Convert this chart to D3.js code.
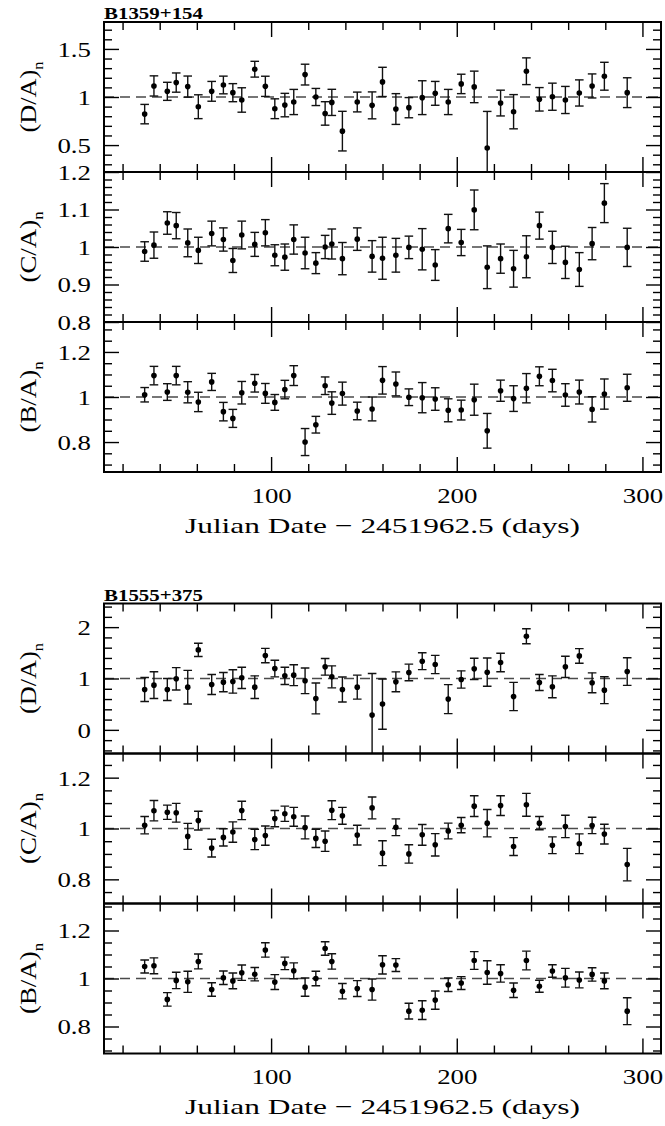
<!DOCTYPE html>
<html>
<head>
<meta charset="utf-8">
<script src="https://cdn.jsdelivr.net/npm/d3@7"></script>
<style>
  body { margin: 0; background: #fff; }
  svg { display: block; }
</style>
</head>
<body>
<svg id="chart" width="665" height="1126"></svg>
<script>
// Observation epochs, Julian Date - 2451962.5 (days)
const days = [31.9, 36.9, 44.1, 48.9, 55.1, 60.8, 68.0, 74.3, 79.4, 84.2, 91.2, 96.9, 102.0, 107.4, 112.2, 118.3, 124.1, 129.1, 132.7, 138.4, 146.4, 154.4, 160.0, 167.2, 174.2, 181.4, 188.4, 195.4, 202.4, 209.4, 216.4, 223.6, 230.6, 237.5, 244.5, 251.5, 258.5, 266.0, 272.9, 279.5, 291.8];

const dayDomain = [10, 310];
const dayMajorTicks = [100, 200, 300];
const dayMinorTicks = d3.range(20, 301, 20);

// B1359+154 normalised flux ratios
const b1359_DA = [0.822, 1.115, 1.059, 1.150, 1.108, 0.899, 1.059, 1.125, 1.045, 0.969, 1.289, 1.111, 0.878, 0.916, 0.948, 1.233, 1.000, 0.829, 0.944, 0.645, 0.948, 0.913, 1.157, 0.875, 0.889, 0.993, 1.038, 0.948, 1.136, 1.105, 0.470, 0.937, 0.847, 1.268, 0.976, 1.003, 0.969, 1.042, 1.115, 1.216, 1.045];
const b1359_DA_err = [0.101, 0.105, 0.094, 0.100, 0.110, 0.124, 0.103, 0.092, 0.094, 0.127, 0.082, 0.105, 0.103, 0.122, 0.131, 0.108, 0.089, 0.122, 0.136, 0.206, 0.103, 0.140, 0.152, 0.160, 0.105, 0.176, 0.124, 0.131, 0.101, 0.164, 0.380, 0.134, 0.178, 0.139, 0.122, 0.141, 0.141, 0.136, 0.125, 0.145, 0.155];
const b1359_CA = [0.988, 1.005, 1.064, 1.057, 1.011, 0.991, 1.036, 1.020, 0.964, 1.032, 1.007, 1.038, 0.978, 0.973, 1.020, 0.984, 0.957, 1.000, 1.008, 0.969, 1.021, 0.975, 0.970, 0.978, 0.999, 0.994, 0.952, 1.049, 1.012, 1.099, 0.946, 0.969, 0.942, 0.974, 1.057, 0.999, 0.959, 0.940, 1.009, 1.117, 0.999];
const b1359_CA_err = [0.026, 0.035, 0.030, 0.035, 0.037, 0.035, 0.033, 0.031, 0.032, 0.037, 0.032, 0.035, 0.028, 0.035, 0.039, 0.042, 0.028, 0.031, 0.040, 0.043, 0.030, 0.042, 0.056, 0.045, 0.030, 0.055, 0.041, 0.038, 0.035, 0.053, 0.057, 0.039, 0.049, 0.056, 0.036, 0.043, 0.043, 0.045, 0.043, 0.052, 0.051];
const b1359_BA = [1.010, 1.095, 1.022, 1.095, 1.021, 0.978, 1.067, 0.935, 0.905, 1.019, 1.061, 1.016, 0.976, 1.033, 1.095, 0.800, 0.877, 1.050, 0.973, 1.015, 0.938, 0.947, 1.074, 1.058, 0.999, 0.997, 0.991, 0.941, 0.942, 0.988, 0.850, 1.028, 0.993, 1.039, 1.092, 1.073, 1.009, 1.022, 0.945, 1.013, 1.041];
const b1359_BA_err = [0.032, 0.041, 0.037, 0.041, 0.047, 0.043, 0.038, 0.041, 0.040, 0.050, 0.039, 0.044, 0.035, 0.041, 0.044, 0.060, 0.037, 0.039, 0.050, 0.051, 0.039, 0.053, 0.061, 0.053, 0.037, 0.067, 0.050, 0.051, 0.044, 0.069, 0.077, 0.047, 0.057, 0.065, 0.042, 0.050, 0.050, 0.053, 0.056, 0.067, 0.060];

// B1555+375 normalised flux ratios
const b1555_DA = [0.786, 0.871, 0.786, 0.994, 0.832, 1.557, 0.883, 0.929, 0.942, 1.013, 0.832, 1.447, 1.194, 1.052, 1.065, 0.955, 0.612, 1.227, 1.032, 0.786, 0.832, 0.288, 0.502, 0.935, 1.117, 1.337, 1.272, 0.599, 0.981, 1.188, 1.123, 1.311, 0.650, 1.822, 0.922, 0.838, 1.227, 1.440, 0.916, 0.773, 1.136];
const b1555_DA_err = [0.233, 0.259, 0.214, 0.217, 0.327, 0.129, 0.194, 0.188, 0.227, 0.207, 0.220, 0.139, 0.162, 0.168, 0.204, 0.249, 0.301, 0.162, 0.214, 0.243, 0.233, 0.810, 0.489, 0.194, 0.162, 0.165, 0.178, 0.282, 0.168, 0.207, 0.275, 0.181, 0.275, 0.146, 0.155, 0.214, 0.207, 0.142, 0.194, 0.262, 0.269];
const b1555_CA = [1.013, 1.070, 1.064, 1.062, 0.969, 1.031, 0.923, 0.965, 0.986, 1.071, 0.957, 0.972, 1.039, 1.058, 1.046, 1.004, 0.961, 0.950, 1.072, 1.050, 0.974, 1.081, 0.903, 1.005, 0.900, 0.975, 0.936, 0.990, 1.013, 1.088, 1.021, 1.090, 0.929, 1.093, 1.021, 0.934, 1.008, 0.940, 1.012, 0.978, 0.858];
const b1555_CA_err = [0.034, 0.040, 0.028, 0.037, 0.051, 0.037, 0.035, 0.034, 0.040, 0.036, 0.040, 0.038, 0.032, 0.030, 0.037, 0.045, 0.036, 0.040, 0.037, 0.033, 0.039, 0.043, 0.049, 0.033, 0.036, 0.041, 0.044, 0.031, 0.030, 0.041, 0.054, 0.039, 0.035, 0.045, 0.026, 0.033, 0.044, 0.039, 0.032, 0.039, 0.064];
const b1555_BA = [1.050, 1.053, 0.913, 0.992, 0.986, 1.071, 0.954, 1.003, 0.990, 1.024, 1.018, 1.119, 0.985, 1.063, 1.032, 0.964, 1.000, 1.125, 1.071, 0.947, 0.958, 0.954, 1.057, 1.056, 0.864, 0.868, 0.910, 0.974, 0.981, 1.075, 1.025, 1.021, 0.951, 1.075, 0.968, 1.031, 1.003, 0.994, 1.017, 0.990, 0.864];
const b1555_BA_err = [0.027, 0.033, 0.028, 0.034, 0.044, 0.031, 0.028, 0.028, 0.033, 0.032, 0.028, 0.030, 0.031, 0.026, 0.033, 0.038, 0.030, 0.028, 0.032, 0.032, 0.033, 0.044, 0.038, 0.027, 0.033, 0.039, 0.038, 0.028, 0.027, 0.037, 0.049, 0.036, 0.030, 0.039, 0.025, 0.026, 0.039, 0.033, 0.028, 0.033, 0.056];

// Y-axis ranges and tick labels per panel
const yDomain_1359_DA = [0.22, 1.78];
const yTicks_1359_DA = [0.5, 1, 1.5];
const yDomain_1359_CA = [0.8, 1.2];
const yTicks_1359_CA = [0.8, 0.9, 1, 1.1, 1.2];
const yDomain_1359_BA = [0.667, 1.333];
const yTicks_1359_BA = [0.8, 1, 1.2];
const yDomain_1555_DA = [-0.46, 2.46];
const yTicks_1555_DA = [0, 1, 2];
const yDomain_1555_CA = [0.705, 1.295];
const yTicks_1555_CA = [0.8, 1, 1.2];
const yDomain_1555_BA = [0.6875, 1.3125];
const yTicks_1555_BA = [0.8, 1, 1.2];

const titles = ["B1359+154", "B1555+375"];
const xLabel = "Julian Date \u2212 2451962.5 (days)";

// ---------------------------------------------------------------
const LEFT = 104, RIGHT = 661, PANEL_H = 150;
const FONT = "'Liberation Serif', 'Times New Roman', serif";
const svg = d3.select("#chart");
const x = d3.scaleLinear().domain(dayDomain).range([LEFT, RIGHT]);

const figures = [
  { title: titles[0], top: 22, panels: [
    { ratio: "D", vals: b1359_DA, errs: b1359_DA_err, dom: yDomain_1359_DA, major: yTicks_1359_DA, minorStep: 0.1 },
    { ratio: "C", vals: b1359_CA, errs: b1359_CA_err, dom: yDomain_1359_CA, major: yTicks_1359_CA, minorStep: 0.02 },
    { ratio: "B", vals: b1359_BA, errs: b1359_BA_err, dom: yDomain_1359_BA, major: yTicks_1359_BA, minorStep: 0.05 }
  ]},
  { title: titles[1], top: 603.5, panels: [
    { ratio: "D", vals: b1555_DA, errs: b1555_DA_err, dom: yDomain_1555_DA, major: yTicks_1555_DA, minorStep: 0.2 },
    { ratio: "C", vals: b1555_CA, errs: b1555_CA_err, dom: yDomain_1555_CA, major: yTicks_1555_CA, minorStep: 0.05 },
    { ratio: "B", vals: b1555_BA, errs: b1555_BA_err, dom: yDomain_1555_BA, major: yTicks_1555_BA, minorStep: 0.05 }
  ]}
];

function minorTicks(dom, step) {
  const lo = Math.ceil(dom[0] / step - 1e-9), hi = Math.floor(dom[1] / step + 1e-9);
  return d3.range(lo, hi + 1).map(i => +(i * step).toFixed(4));
}

function styleAxis(g, width) {
  g.select(".domain").remove();
  g.selectAll(".tick line").attr("stroke", "#000").attr("stroke-width", width);
}

// stretch glyphs horizontally to the wide plotting font used for labels
function widen(sel, factor) {
  sel.each(function () {
    const w = this.getComputedTextLength();
    d3.select(this).attr("textLength", w * factor).attr("lengthAdjust", "spacingAndGlyphs");
  });
}

figures.forEach((fig, fi) => {
  const gFig = svg.append("g");

  gFig.append("text")
    .attr("x", LEFT).attr("y", fig.top - 3)
    .attr("font-family", FONT).attr("font-weight", "bold").attr("font-size", 16.5)
    .attr("textLength", 99).attr("lengthAdjust", "spacingAndGlyphs")
    .text(fig.title);

  fig.panels.forEach((p, pi) => {
    const top = fig.top + pi * PANEL_H;
    const bottom = top + PANEL_H;
    const y = d3.scaleLinear().domain(p.dom).range([bottom, top]);
    const g = gFig.append("g");
    const clipId = `clip-${fi}-${pi}`;

    g.append("clipPath").attr("id", clipId)
      .append("rect").attr("x", LEFT).attr("y", top).attr("width", RIGHT - LEFT).attr("height", PANEL_H);

    const plot = g.append("g").attr("clip-path", `url(#${clipId})`);

    // reference level at unity
    plot.append("line")
      .attr("x1", LEFT).attr("x2", RIGHT).attr("y1", y(1)).attr("y2", y(1))
      .attr("stroke", "#4a4a4a").attr("stroke-width", 1.3).attr("stroke-dasharray", "10,6");

    const pts = days.map((d, i) => ({ d, v: p.vals[i], e: p.errs[i] }));
    const bars = plot.append("g").attr("stroke", "#111").attr("stroke-width", 1.4);
    const capW = 4.3;
    pts.forEach(pt => {
      const cx = x(pt.d), y0 = y(pt.v - pt.e), y1 = y(pt.v + pt.e);
      bars.append("line").attr("x1", cx).attr("x2", cx).attr("y1", y0).attr("y2", y1);
      bars.append("line").attr("x1", cx - capW).attr("x2", cx + capW).attr("y1", y0).attr("y2", y0);
      bars.append("line").attr("x1", cx - capW).attr("x2", cx + capW).attr("y1", y1).attr("y2", y1);
    });
    plot.append("g").selectAll("circle").data(pts).join("circle")
      .attr("cx", d => x(d.d)).attr("cy", d => y(d.v)).attr("r", 2.8).attr("fill", "#000");

    // ticks on all four sides, pointing inwards
    const yMinor = minorTicks(p.dom, p.minorStep).filter(v => !p.major.some(m => Math.abs(m - v) < 1e-6));
    const xMinor = dayMinorTicks.filter(v => !dayMajorTicks.includes(v));

    const gl = g.append("g").attr("transform", `translate(${LEFT},0)`)
      .call(d3.axisLeft(y).tickValues(p.major).tickSize(-15).tickSizeOuter(0).tickPadding(13)
        .tickFormat(d => String(d)));
    styleAxis(gl, 1.4);
    gl.selectAll("text").attr("font-family", FONT).attr("font-size", 22).attr("fill", "#000")
      .attr("dy", "0.34em").call(widen, 1.22);
    gl.attr("font-family", null).attr("font-size", null);

    styleAxis(g.append("g").attr("transform", `translate(${LEFT},0)`)
      .call(d3.axisLeft(y).tickValues(yMinor).tickSize(-8).tickSizeOuter(0).tickFormat("")), 1.4);
    styleAxis(g.append("g").attr("transform", `translate(${RIGHT},0)`)
      .call(d3.axisRight(y).tickValues(p.major).tickSize(-15).tickSizeOuter(0).tickFormat("")), 1.4);
    styleAxis(g.append("g").attr("transform", `translate(${RIGHT},0)`)
      .call(d3.axisRight(y).tickValues(yMinor).tickSize(-8).tickSizeOuter(0).tickFormat("")), 1.4);
    styleAxis(g.append("g").attr("transform", `translate(0,${top})`)
      .call(d3.axisTop(x).tickValues(dayMajorTicks).tickSize(-15).tickSizeOuter(0).tickFormat("")), 1.4);
    styleAxis(g.append("g").attr("transform", `translate(0,${top})`)
      .call(d3.axisTop(x).tickValues(xMinor).tickSize(-8).tickSizeOuter(0).tickFormat("")), 1.4);

    const isLast = pi === fig.panels.length - 1;
    const gb = g.append("g").attr("transform", `translate(0,${bottom})`)
      .call(d3.axisBottom(x).tickValues(dayMajorTicks).tickSize(-15).tickSizeOuter(0).tickPadding(15)
        .tickFormat(isLast ? (d => String(d)) : ""));
    styleAxis(gb, 1.4);
    gb.selectAll("text").attr("font-family", FONT).attr("font-size", 22).attr("fill", "#000")
      .attr("dy", "0.71em").call(widen, 1.22);
    styleAxis(g.append("g").attr("transform", `translate(0,${bottom})`)
      .call(d3.axisBottom(x).tickValues(xMinor).tickSize(-8).tickSizeOuter(0).tickFormat("")), 1.4);

    // panel frame
    g.append("rect").attr("x", LEFT).attr("y", top).attr("width", RIGHT - LEFT).attr("height", PANEL_H)
      .attr("fill", "none").attr("stroke", "#000").attr("stroke-width", 2);

    // y label: (X/A) with subscript n
    const cy = (top + bottom) / 2;
    const lab = g.append("text")
      .attr("transform", `translate(36,${cy}) rotate(-90)`)
      .attr("text-anchor", "middle")
      .attr("font-family", FONT).attr("font-size", 22.5)
      .attr("textLength", 71).attr("lengthAdjust", "spacingAndGlyphs");
    lab.append("tspan").text(`(${p.ratio}/A)`);
    lab.append("tspan").attr("font-size", 14).attr("dy", 7).text("n");

    if (isLast) {
      gFig.append("text")
        .attr("x", (LEFT + RIGHT) / 2).attr("y", bottom + 60.5)
        .attr("text-anchor", "middle")
        .attr("font-family", FONT).attr("font-size", 22)
        .attr("textLength", 395).attr("lengthAdjust", "spacingAndGlyphs")
        .text(xLabel);
    }
  });
});
</script>
</body>
</html>
